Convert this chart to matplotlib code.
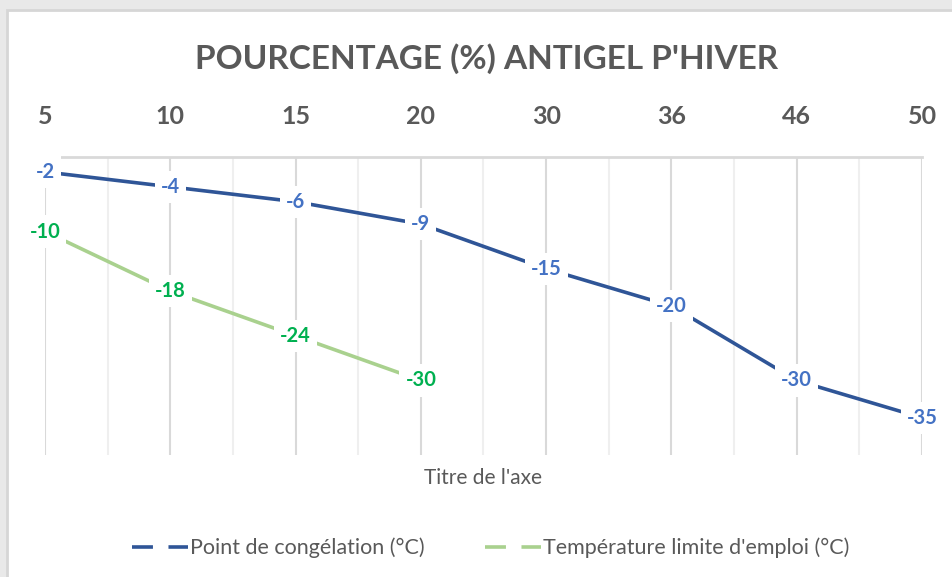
import matplotlib
matplotlib.use("Agg")
from matplotlib import pyplot as plt
from matplotlib.lines import Line2D
from matplotlib.patches import Rectangle
from matplotlib.ticker import FixedLocator

# data
categories = ["5", "10", "15", "20", "30", "36", "46", "50"]
congelation = [-2, -4, -6, -9, -15, -20, -30, -35]
limite = [-10, -18, -24, -30]

blue_line = "#2F5597"
blue_text = "#4472C4"
green_line = "#A9D18E"
green_text = "#00B050"
gray_text = "#595959"

plt.rcParams["font.family"] = ["Lato", "DejaVu Sans"]

fig = plt.figure(figsize=(9.52, 5.77), dpi=100)
fig.patch.set_facecolor("#E9E9E9")
# white chart frame behind everything
fig.patches.append(Rectangle((7 / 952, -0.01), 1, (577 - 10) / 577 + 0.01, transform=fig.transFigure,
                             facecolor="white", edgecolor="#D6D6D6", linewidth=2, zorder=-10))

ax = fig.add_axes([45 / 952, (577 - 455) / 577, 877 / 952, 298 / 577])
ax.set_facecolor("none")

x = list(range(len(categories)))
ax.plot(x, congelation, color=blue_line, linewidth=2.6, solid_capstyle="butt", zorder=3)
ax.plot(x[:len(limite)], limite, color=green_line, linewidth=2.6, solid_capstyle="butt", zorder=3)

# data labels centred on the points, white box hides the line
for xi, v in zip(x, congelation):
    ax.text(xi, v, str(v), ha="center", va="center", color=blue_text, fontsize=14.5,
            fontweight="bold", zorder=5,
            bbox=dict(boxstyle="square,pad=0.3", facecolor="white", edgecolor="none"))
for xi, v in zip(x, limite):
    ax.text(xi, v, str(v), ha="center", va="center", color=green_text, fontsize=14.5,
            fontweight="bold", zorder=5,
            bbox=dict(boxstyle="square,pad=0.3", facecolor="white", edgecolor="none"))

ax.set_xlim(0, len(categories) - 1)
ax.set_ylim(-40, 0)
ax.xaxis.tick_top()
ax.set_xticks(x)
ax.set_xticklabels(categories, fontsize=18, color=gray_text, fontweight="bold")
ax.xaxis.set_minor_locator(FixedLocator([i + 0.5 for i in x[:-1]]))
ax.tick_params(axis="x", which="both", length=0, pad=21)
ax.set_yticks([])
ax.grid(True, axis="x", which="major", color="#D9D9D9", linewidth=1.5, zorder=1)
ax.grid(True, axis="x", which="minor", color="#EFEFEF", linewidth=1.5, zorder=1)
for side in ["left", "right", "bottom"]:
    ax.spines[side].set_visible(False)
ax.spines["top"].set_color("#D9D9D9")
ax.spines["top"].set_linewidth(2)

fig.text(487 / 952, 1 - 59 / 577, "POURCENTAGE (%) ANTIGEL P'HIVER", ha="center", va="center",
         fontsize=24, fontweight="bold", color=gray_text)
fig.text(483 / 952, 1 - 478 / 577, "Titre de l'axe", ha="center", va="center",
         fontsize=15, color=gray_text)

handles = [Line2D([], [], color=blue_line, linewidth=2.6, linestyle=(0, (5.8, 4.3))),
           Line2D([], [], color=green_line, linewidth=2.6, linestyle=(0, (5.8, 4.3)))]
fig.legend(handles, ["Point de congélation (°C)", "Température limite d'emploi (°C)"],
           loc="center", bbox_to_anchor=(491 / 952, 1 - 548 / 577), ncol=2, frameon=False,
           fontsize=15.5, labelcolor=gray_text, handlelength=2.6, handletextpad=0.1,
           columnspacing=2.8)

fig.savefig("out.png", dpi=100, facecolor=fig.get_facecolor())
